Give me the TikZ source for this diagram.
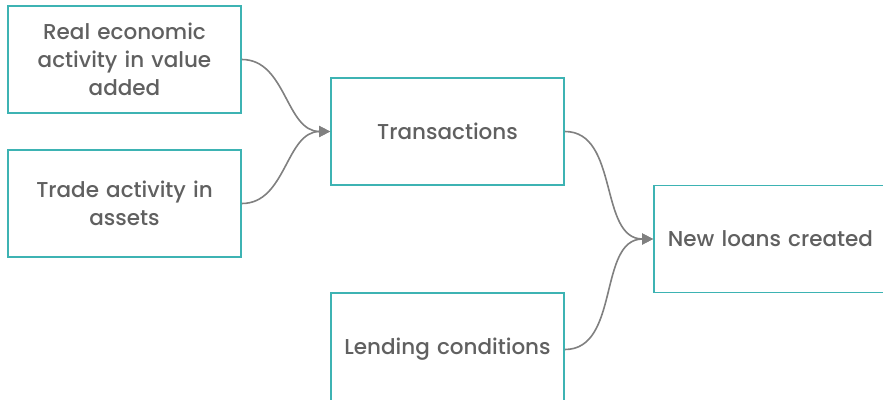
\documentclass[tikz,border=0pt]{standalone}
\usepackage{fontspec}
\setmainfont{Poppins}[UprightFont={* Medium}]
\usetikzlibrary{arrows.meta}
\definecolor{boxteal}{HTML}{3DB3B3}
\definecolor{textgray}{HTML}{606060}
\definecolor{linegray}{HTML}{808080}
\begin{document}
\begin{tikzpicture}[x=1pt,y=-1pt,
        factor/.style={draw=boxteal,line width=1.8pt,fill=white,minimum width=233pt,minimum height=107pt,
            text width=222pt,align=center,text=textgray,font=\fontsize{21.5}{28}\selectfont},
        link/.style={draw=linegray,line width=1.6pt,-{Triangle[length=11pt,width=11pt]},out=0,in=180}]
                \useasboundingbox[fill=white] (0,0) rectangle (883,399);
                
                \node[factor] (real) at (124.5,59.5) {Real economic\\activity in value\\added};
                \node[factor] (trade) at (124.5,203.5) {Trade activity in\\assets};
                \node[factor] (trans) at (447.5,131.5) {Transactions};
                \node[factor,minimum height=113pt] (lend) at (447.5,349.5) {Lending conditions};
                \node[factor] (loans) at (770.5,239) {New loans created};
                
                \draw[link] (real.east) to (trans.west);
                \draw[link] (trade.east) to (trans.west);
                \draw[link] (trans.east) to (loans.west);
                \draw[link] (lend.east) to (loans.west);
            \end{tikzpicture}
\end{document}
